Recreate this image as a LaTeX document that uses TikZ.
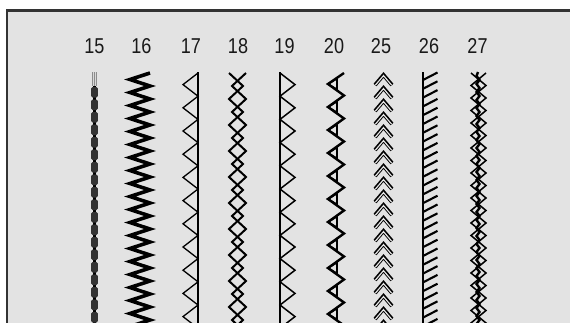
\documentclass[tikz,border=0pt]{standalone}
\usepackage{fontspec}
\setmainfont{Liberation Sans}
\usetikzlibrary{positioning}
\definecolor{panelgray}{HTML}{E3E3E3}
\definecolor{framegray}{HTML}{333333}

\begin{document}
\begin{tikzpicture}[x=1pt,y=-1pt,
  num/.style={font=\fontsize{21.5}{21.5}\selectfont,text=black!90,xscale=0.84,inner sep=0pt,anchor=base},
  thinseam/.style={line width=1.3pt,line join=miter,black},
  seam/.style={line width=2pt,line join=miter,black},
  satin/.style={line width=3.6pt,line join=miter,miter limit=4,black},
  rail/.style={line width=1.8pt,black}]
\useasboundingbox (0,0) rectangle (570,322);
\fill[white] (0,0) rectangle (570,322);
\fill[panelgray] (7,10.5) rectangle (575,330);
\draw[framegray,line width=2.2pt] (7,330) -- (7,10.5) -- (575,10.5);
% stitch numbers
\foreach \n/\x in {15/94.5,16/141.5,17/191,18/238,19/284.5,20/334,25/381,26/429,27/477.5}
  \node[num] (n\n) at (\x,53) {\n};
\begin{scope}
\clip (8,12) rectangle (570,322);
% 15 straight stitch
\fill[black!45] (91.8,72) rectangle (97.2,86);
\draw[black!15,line width=0.7pt] (93.6,72) -- (93.6,86) (95.4,72) -- (95.4,86);
\draw[line width=2.6pt] (94.5,86) -- (94.5,330);
\foreach \k in {0,...,19}
  \fill[black!80,rounded corners=1.5pt] (91.2,{87+12.5*\k}) rectangle (97.8,{97.5+12.5*\k});
% 16 satin zigzag
\draw[satin] (150,73) \foreach \k in {0,...,19} { -- (130,{79.5+13*\k}) -- (150,{86+13*\k}) };
% 17 blind hem, rail right
\draw[thinseam] (198,72) -- (198,330);
\draw[thinseam] (198,73) \foreach \k in {0,...,11} { -- (183,{84.6+23.2*\k}) -- (198,{96.2+23.2*\k}) };
% 18 double zigzag
\draw[seam] (229,73) \foreach \k in {0,...,10} { -- (243,{86+26*\k}) -- (229,{99+26*\k}) };
\draw[seam] (246,73) \foreach \k in {0,...,10} { -- (232,{86+26*\k}) -- (246,{99+26*\k}) };
% 19 blind hem, rail left
\draw[rail] (280,72) -- (280,330);
\draw[thinseam,line width=1.5pt] (280,73) \foreach \k in {0,...,11} { -- (295,{84.6+23.2*\k}) -- (280,{96.2+23.2*\k}) };
% 20 arrow zigzag
\draw[seam,line width=2.4pt] (344,73) \foreach \k in {0,...,11} { -- (328,{84+23*\k}) -- (344,{95.5+23*\k}) };
\foreach \k in {0,...,11}
  \draw[seam,line width=1.8pt] (328,{84+23*\k}) -- (337,{78.5+23*\k}) -- (337,{89.5+23*\k}) -- cycle;
% 25 chevrons
\foreach \k in {0,...,19} {
  \draw[line width=3.8pt,black,line join=miter] (375,{85+13*\k}) -- (383.5,{75+13*\k}) -- (392,{85+13*\k});
  \draw[line width=1.2pt,panelgray,line join=miter] (375.5,{85+13*\k}) -- (383.5,{75.6+13*\k}) -- (391.5,{85+13*\k});
}
% 26 slanted stitches
\draw[rail] (423,72) -- (423,330);
\foreach \k in {0,...,29}
  \draw[line width=2.1pt,black] (423,{80+8.8*\k}) -- (437.5,{72.5+8.8*\k});
% 27 triple zigzag
\draw[seam,line width=2.4pt] (478,72) \foreach \k in {0,...,31} { -- (476.5,{76+8*\k}) -- (479.5,{80+8*\k}) };
\draw[thinseam,line width=1.5pt] (471,73) \foreach \k in {0,...,10} { -- (486,{85.5+25*\k}) -- (471,{98+25*\k}) };
\draw[thinseam,line width=1.5pt] (486,73) \foreach \k in {0,...,10} { -- (471,{85.5+25*\k}) -- (486,{98+25*\k}) };
\end{scope}
\end{tikzpicture}
\end{document}
